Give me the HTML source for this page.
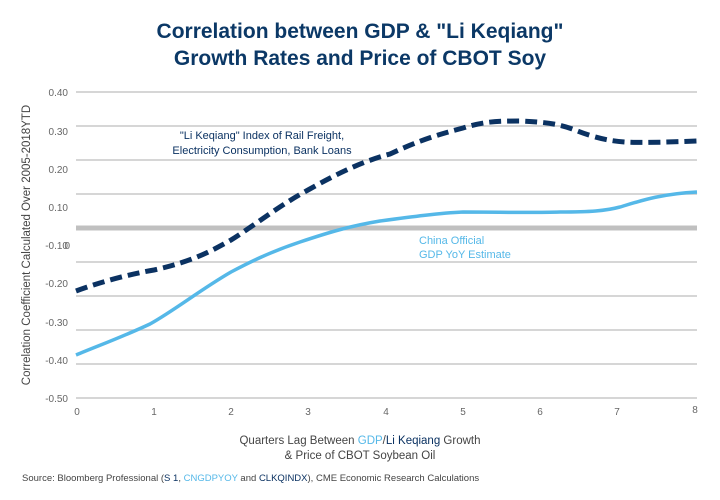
<!DOCTYPE html>
<html><head><meta charset="utf-8"><style>
body{margin:0;background:#fff;}
svg{display:block;font-family:"Liberation Sans",sans-serif;}
</style></head><body>
<svg width="720" height="500" viewBox="0 0 720 500">
<rect width="720" height="500" fill="#fff"/>
<text x="360" y="38" text-anchor="middle" font-size="21" font-weight="bold" fill="#0b3866">Correlation between GDP &amp; "Li Keqiang"</text>
<text x="360" y="65" text-anchor="middle" font-size="21" font-weight="bold" fill="#0b3866">Growth Rates and Price of CBOT Soy</text>
<g stroke="#c8c8c8" stroke-width="1.5">
<line x1="76" x2="697" y1="92" y2="92"/><line x1="76" x2="697" y1="126" y2="126"/>
<line x1="76" x2="697" y1="160" y2="160"/><line x1="76" x2="697" y1="194" y2="194"/>
<line x1="76" x2="697" y1="262" y2="262"/><line x1="76" x2="697" y1="296" y2="296"/>
<line x1="76" x2="697" y1="330" y2="330"/><line x1="76" x2="697" y1="364" y2="364"/>
<line x1="76" x2="697" y1="398" y2="398"/>
</g>
<line x1="76" x2="697" y1="228" y2="228" stroke="#c0c0c0" stroke-width="5"/>
<g font-size="10" fill="#666" text-anchor="end">
<text x="68" y="96">0.40</text><text x="68" y="135">0.30</text><text x="68" y="173">0.20</text>
<text x="68" y="211">0.10</text><text x="68" y="249">-0.10</text><text x="70" y="249">0</text>
<text x="68" y="287">-0.20</text><text x="68" y="326">-0.30</text><text x="68" y="364">-0.40</text><text x="68" y="402">-0.50</text>
</g>
<g font-size="10" fill="#666" text-anchor="middle">
<text x="77" y="415">0</text><text x="154" y="415">1</text><text x="231" y="415">2</text><text x="308" y="415">3</text>
<text x="386" y="415">4</text><text x="463" y="415">5</text><text x="540" y="415">6</text><text x="617" y="415">7</text><text x="695" y="413">8</text>
</g>
<text transform="translate(30,245) rotate(-90)" text-anchor="middle" font-size="11.5" fill="#444">Correlation Coefficient Calculated Over 2005-2018YTD</text>
<path d="M76,355 C100,345 120,338 150,324 C175,310 200,290 231,272 C250,262 270,252 300,242 C330,232 350,226 380,221 C410,217 440,213 463,212 C500,212 530,213 560,212 C590,212 605,211 620,207 C640,201 660,194 697,192" fill="none" stroke="#55b8e8" stroke-width="3.5"/>
<path d="M76,291 C100,282 130,274 154,270 C190,262 210,252 231,240 C255,225 280,205 308,190 C335,175 360,162 390,154 C420,140 440,134 463,128 C485,121 500,121 520,121 C545,122 560,124 575,130 C595,138 610,141 625,142 C645,143 670,142 697,141" fill="none" stroke="#0b3262" stroke-width="5" stroke-dasharray="12,6"/>
<text x="262" y="139" text-anchor="middle" font-size="11" fill="#0b3262">"Li Keqiang" Index of Rail Freight,</text>
<text x="262" y="154" text-anchor="middle" font-size="11" fill="#0b3262">Electricity Consumption, Bank Loans</text>
<text x="419" y="244" font-size="11" fill="#55b8e8">China Official</text>
<text x="419" y="258" font-size="11" fill="#55b8e8">GDP YoY Estimate</text>
<text x="360" y="444" text-anchor="middle" font-size="11.5" fill="#444">Quarters Lag Between <tspan fill="#55b8e8">GDP</tspan>/<tspan fill="#0b3262">Li Keqiang</tspan> Growth</text>
<text x="360" y="459" text-anchor="middle" font-size="11.5" fill="#444">&amp; Price of CBOT Soybean Oil</text>
<text x="22" y="481" font-size="9.5" fill="#444">Source: Bloomberg Professional (<tspan fill="#0b3262">S 1</tspan>, <tspan fill="#55b8e8">CNGDPYOY</tspan> and <tspan fill="#0b3262">CLKQINDX</tspan>), CME Economic Research Calculations</text>
</svg>
</body></html>
